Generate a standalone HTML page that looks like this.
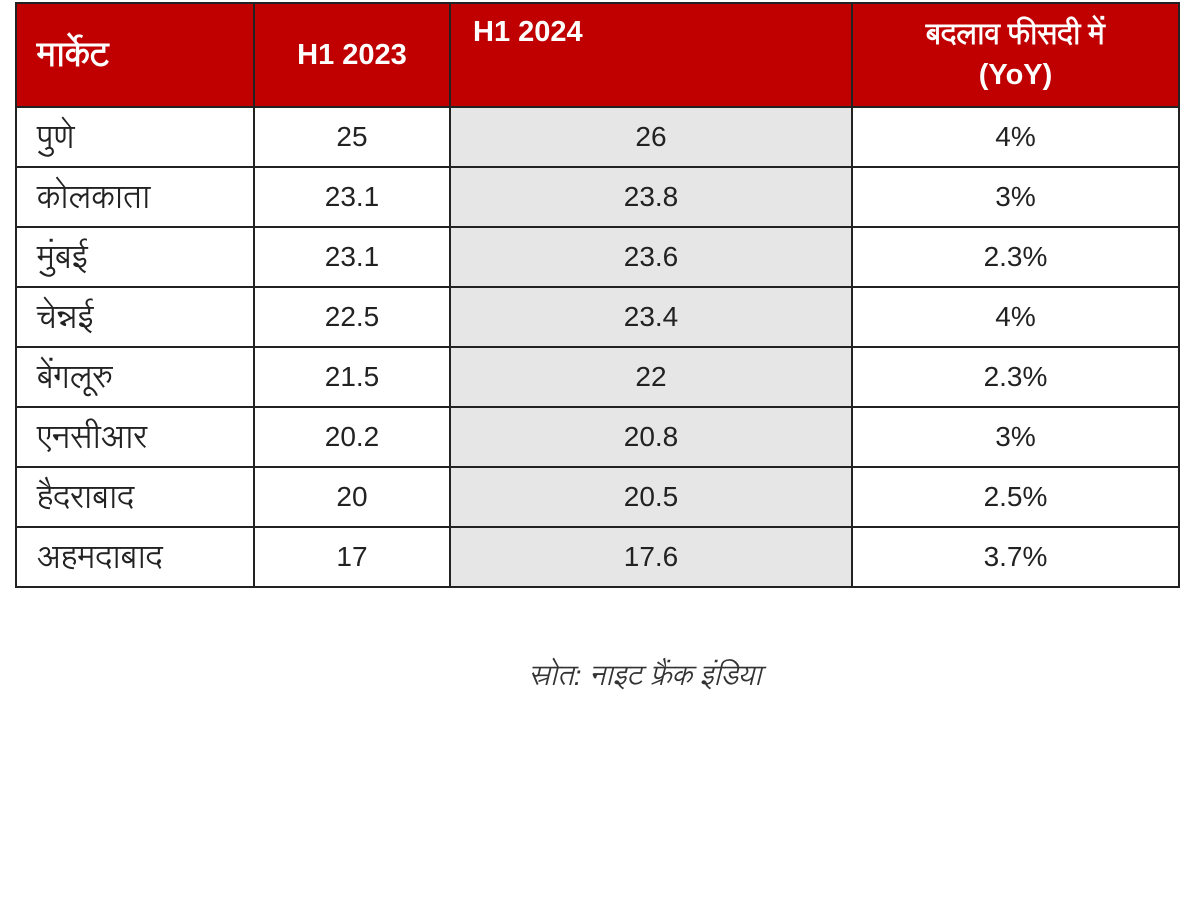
<!DOCTYPE html>
<html><head><meta charset="utf-8"><style>
body{margin:0;width:1200px;height:900px;background:#fff;position:relative;overflow:hidden;font-family:"Liberation Sans","Lohit Devanagari","Noto Sans Devanagari","FreeSans",sans-serif;}
table{position:absolute;left:15px;top:2px;border-collapse:collapse;table-layout:fixed;}
td,th{border:2px solid #222;padding:0;height:58px;font-size:28px;color:#222;text-align:center;line-height:1;overflow:hidden;}
tr{height:60px;}
tr.h{height:104px;}
th{background:#c00000;color:#fff;font-weight:bold;height:102px;font-size:29px;}
td.l{text-align:left;padding-left:20px;font-size:32px;}
td.g{background:#e6e6e6;}
.src{position:absolute;left:0;width:1290px;top:662px;text-align:center;font-style:italic;font-size:28px;color:#333;line-height:1;}
</style></head><body>
<table>
<colgroup><col style="width:238px"><col style="width:196px"><col style="width:402px"><col style="width:327px"></colgroup>
<tr class="h"><th style="text-align:left;padding-left:20px;font-size:34px">मार्केट</th><th>H1 2023</th><th style="text-align:left;padding-left:22px;vertical-align:top;padding-top:14px;height:88px">H1 2024</th><th style="line-height:40px">बदलाव फीसदी में<br>(YoY)</th></tr>
<tr><td class="l">पुणे</td><td>25</td><td class="g">26</td><td>4%</td></tr>
<tr><td class="l">कोलकाता</td><td>23.1</td><td class="g">23.8</td><td>3%</td></tr>
<tr><td class="l">मुंबई</td><td>23.1</td><td class="g">23.6</td><td>2.3%</td></tr>
<tr><td class="l">चेन्नई</td><td>22.5</td><td class="g">23.4</td><td>4%</td></tr>
<tr><td class="l">बेंगलूरु</td><td>21.5</td><td class="g">22</td><td>2.3%</td></tr>
<tr><td class="l">एनसीआर</td><td>20.2</td><td class="g">20.8</td><td>3%</td></tr>
<tr><td class="l">हैदराबाद</td><td>20</td><td class="g">20.5</td><td>2.5%</td></tr>
<tr><td class="l">अहमदाबाद</td><td>17</td><td class="g">17.6</td><td>3.7%</td></tr>
</table>
<div class="src">स्रोत: नाइट फ्रैंक इंडिया</div>
</body></html>
